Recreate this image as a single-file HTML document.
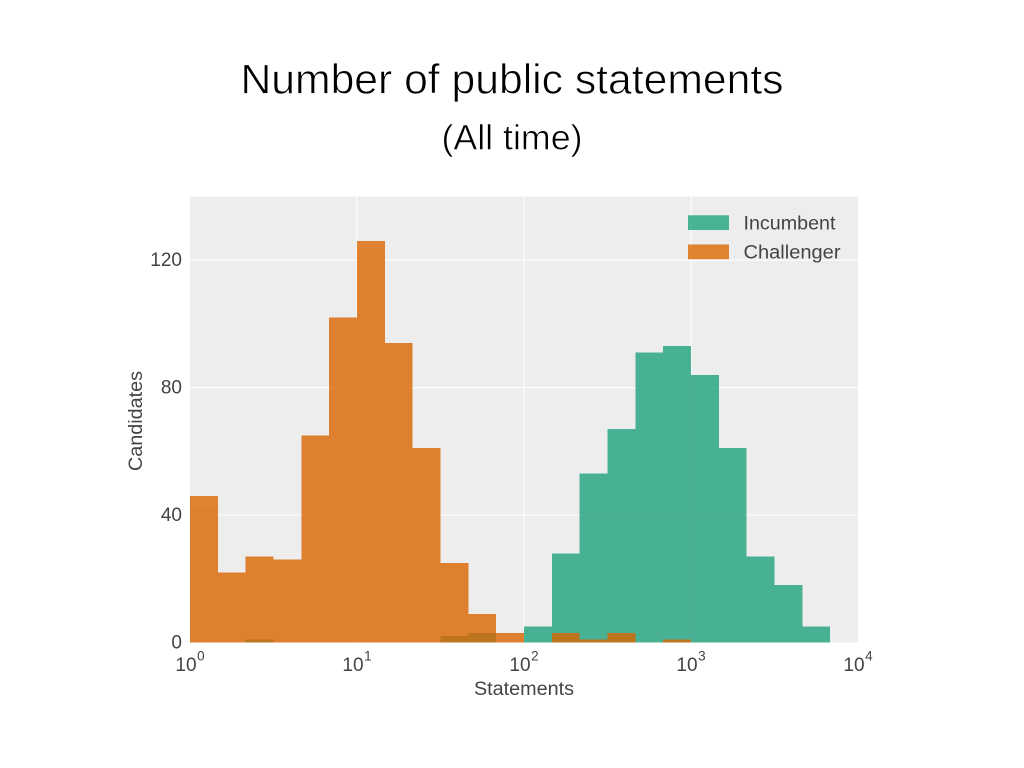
<!DOCTYPE html>
<html lang="en">
<head>
<meta charset="utf-8">
<title>Number of public statements</title>
<style>
html,body{margin:0;padding:0;background:#fff;width:1024px;height:768px;overflow:hidden}
svg{display:block;font-family:"Liberation Sans",sans-serif}
</style>
</head>
<body>
<svg id="chart" xmlns="http://www.w3.org/2000/svg" width="1024" height="768" viewBox="0 0 1024 768">
  <rect x="0" y="0" width="1024" height="768" fill="#ffffff"/>
  <text x="512" y="93.5" text-anchor="middle" font-size="42" fill="#000000" stroke="#ffffff" stroke-width="0.7" textLength="543" lengthAdjust="spacingAndGlyphs">Number of public statements</text>
  <text x="512" y="149.5" text-anchor="middle" font-size="35" fill="#000000" stroke="#ffffff" stroke-width="0.6" textLength="141" lengthAdjust="spacingAndGlyphs">(All time)</text>
  <rect id="plot" x="190" y="196.5" width="668" height="446" fill="#ededed"/>
  <g id="grid"></g>
  <g id="incumbent" opacity="0.8" shape-rendering="crispEdges"></g>
  <g id="challenger" opacity="0.8" shape-rendering="crispEdges"></g>
  <g id="xticks"></g>
  <g id="yticks"></g>
  <text x="524" y="695" text-anchor="middle" font-size="19" fill="#444444" textLength="100" lengthAdjust="spacingAndGlyphs">Statements</text>
  <text transform="translate(142,421) rotate(-90)" text-anchor="middle" font-size="19" fill="#444444" textLength="100" lengthAdjust="spacingAndGlyphs">Candidates</text>
  <g>
    <g>
      <rect x="688" y="215.3" width="41" height="14.7" fill="#21a37d" fill-opacity="0.8"/>
      <text x="743.5" y="229.5" font-size="19.7" fill="#444444" textLength="92" lengthAdjust="spacingAndGlyphs">Incumbent</text>
    </g>
    <g>
      <rect x="688" y="244.5" width="41" height="14.7" fill="#dc6600" fill-opacity="0.8"/>
      <text x="743.5" y="258.5" font-size="19.7" fill="#444444" textLength="97" lengthAdjust="spacingAndGlyphs">Challenger</text>
    </g>
  </g>
</svg>
<script>
// Histogram counts per log-spaced bin (six bins per decade, starting at 10^0)
const incumbentCounts = [0,0,1,0,0,0,0,0,0,2,3,0,5,28,53,67,91,93,84,61,27,18,5,0];
const challengerCounts = [46,22,27,26,65,102,126,94,61,25,9,3,0,3,1,3,0,1,0,0,0,0,0,0];
const xTickExponents = [0,1,2,3,4];
const yTickValues = [0,40,80,120];
const binsPerDecade = 6;

const NS = 'http://www.w3.org/2000/svg';
const plotLeft = 190, plotRight = 858, plotTop = 196.5, plotBottom = 642.5;
const xMaxExponent = 4, yMax = 140;

function xScale(exponent) {
  return plotLeft + (exponent / xMaxExponent) * (plotRight - plotLeft);
}
function yScale(value) {
  return plotBottom - (value / yMax) * (plotBottom - plotTop);
}
function make(tag, attrs, parent) {
  const el = document.createElementNS(NS, tag);
  for (const key in attrs) el.setAttribute(key, attrs[key]);
  parent.appendChild(el);
  return el;
}

const gridGroup = document.getElementById('grid');
const xTickGroup = document.getElementById('xticks');
const yTickGroup = document.getElementById('yticks');

xTickExponents.forEach(function (exp) {
  const x = xScale(exp);
  if (exp > 0 && exp < xMaxExponent) {
    const line = make('line', {x1: x, x2: x, y1: plotTop, y2: plotBottom, stroke: '#ffffff', 'stroke-width': 1}, gridGroup);
    
    
  }
  const label = make('text', {x: x, y: 671, 'text-anchor': 'middle', 'font-size': 19, fill: '#444444'}, xTickGroup);
  
  
  label.textContent = '10';
  const power = make('tspan', {dx: 0.5, dy: -10.5, 'font-size': 13.5}, label);
  power.textContent = String(exp);
});

yTickValues.forEach(function (value) {
  const y = yScale(value);
  if (value > 0) {
    const line = make('line', {x1: plotLeft, x2: plotRight, y1: y, y2: y, stroke: '#ffffff', 'stroke-width': 1}, gridGroup);
    
    
  }
  const label = make('text', {x: 182, y: y + 6, 'text-anchor': 'end', 'font-size': 19, fill: '#444444'}, yTickGroup);
  
  
  label.textContent = String(value);
});

function drawSeries(counts, groupId, color) {
  const group = document.getElementById(groupId);
  counts.forEach(function (count, i) {
    if (count === 0) return;
    const x0 = xScale(i / binsPerDecade);
    const x1 = xScale((i + 1) / binsPerDecade);
    const bar = make('rect', {
      x: x0,
      y: yScale(count),
      width: x1 - x0,
      height: plotBottom - yScale(count),
      fill: color
    }, group);
    
    
  });
}

drawSeries(incumbentCounts, 'incumbent', '#21a37d');
drawSeries(challengerCounts, 'challenger', '#dc6600');
</script>
</body>
</html>
